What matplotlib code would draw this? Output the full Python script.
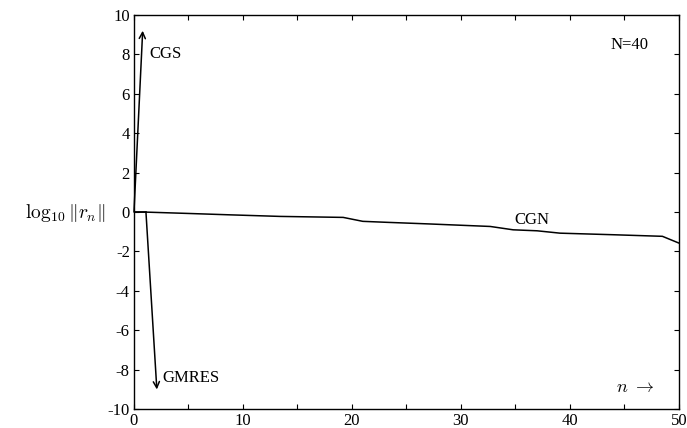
import numpy as np
from matplotlib import pyplot as plt

plt.rcParams['font.family'] = ['Liberation Serif', 'DejaVu Serif']
plt.rcParams['mathtext.fontset'] = 'cm'
plt.rcParams['axes.unicode_minus'] = False

# CGN: residuo que decrece lentamente
n_cgn = [0, 1, 5, 8.8, 13.4, 19.2, 21, 23.2, 27, 32.7, 34.8, 37, 39.1, 44, 48.5, 50]
r_cgn = [0, 0, -0.07, -0.14, -0.22, -0.27, -0.47, -0.52, -0.6, -0.73, -0.9, -0.95, -1.07, -1.15, -1.23, -1.57]

# CGS: diverge
n_cgs = [0, 0.8]
r_cgs = [0, 9.2]

# GMRES: converge de golpe
n_gm = [0, 1.1, 2.1]
r_gm = [0, 0, -9.0]

fig = plt.figure(figsize=(6.87, 4.28), dpi=100)
ax = fig.add_axes([0.195, 0.044, 0.793, 0.921])

ax.plot(n_cgn, r_cgn, color='black', lw=1.1)

# lineas con flecha al final
for nn, rr in [(n_cgs, r_cgs), (n_gm, r_gm)]:
    ax.plot(nn[:-1], rr[:-1], color='black', lw=1.1)
    ax.annotate('', xy=(nn[-1], rr[-1]), xytext=(nn[-2], rr[-2]),
                arrowprops=dict(arrowstyle='->', color='black', lw=1.1,
                                shrinkA=0, shrinkB=0, mutation_scale=11))

ax.text(1.4, 8.0, 'CGS', fontsize=12, va='center')
ax.text(2.6, -8.4, 'GMRES', fontsize=12, va='center')
ax.text(36.5, -0.4, 'CGN', fontsize=12, ha='center', va='center')
ax.text(45.5, 8.5, 'N=40', fontsize=12, ha='center', va='center')
ax.text(46, -8.9, r'$n\ \rightarrow$', fontsize=13, ha='center', va='center')

ax.set_xlim(0, 50)
ax.set_ylim(-10, 10)
ax.set_xticks(np.arange(0, 51, 10))
ax.set_xticks(np.arange(0, 51, 5), minor=True)
ax.set_yticks(np.arange(-10, 11, 2))
ax.tick_params(which='both', direction='in', top=True, right=True, labelsize=12, length=3.5, width=0.8, pad=3)
for s in ax.spines.values():
    s.set_linewidth(1.0)

fig.text(0.095, 0.503, r'$\log_{10}\|r_n\|$', fontsize=14, ha='center', va='center')

fig.savefig('out.png', dpi=100)
